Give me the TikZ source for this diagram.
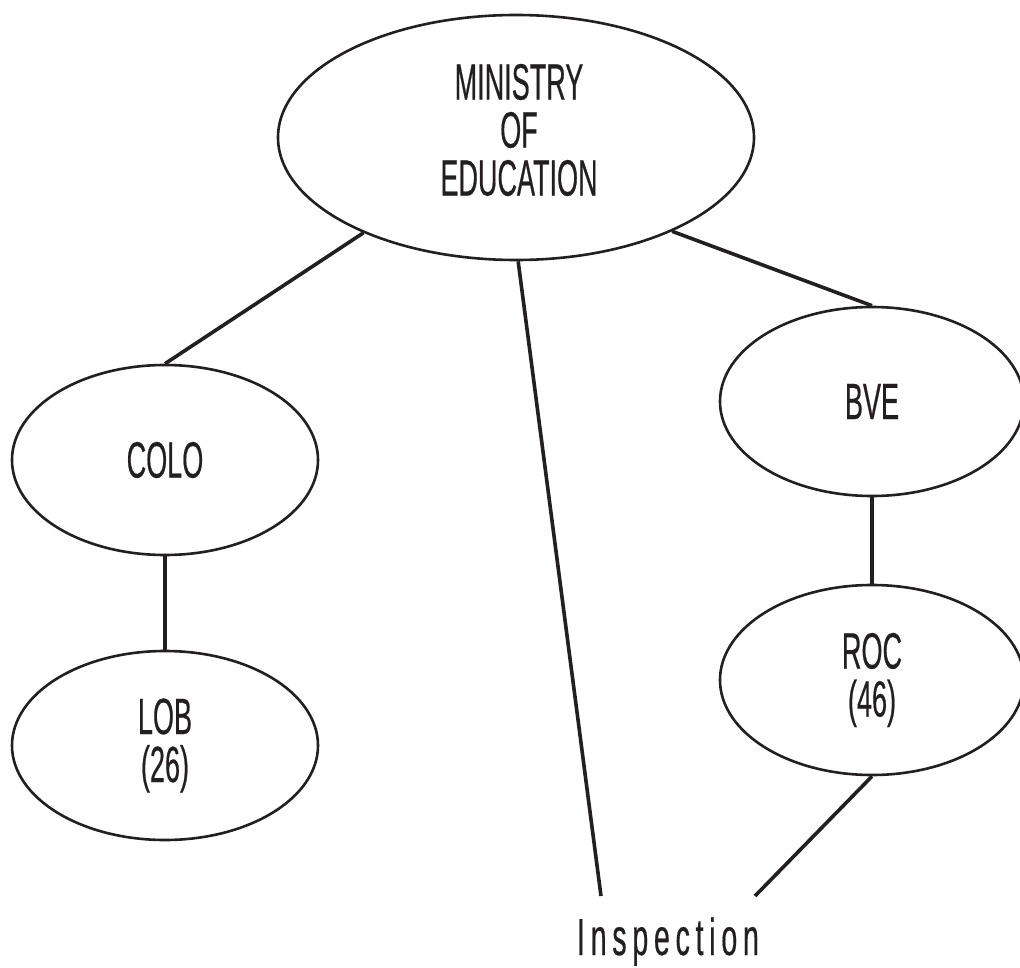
\documentclass[tikz,border=0pt]{standalone}
\usepackage{fontspec}
\setmainfont{Liberation Sans}[FakeStretch=0.53,FakeBold=0.4]
\newfontfamily\inspfont{Liberation Sans}[FakeStretch=0.55,FakeBold=0.4,LetterSpace=11]
\usetikzlibrary{shapes.geometric}
\definecolor{ink}{HTML}{231F20}
\tikzset{
  org/.style={ellipse, draw=ink, line width=2.6pt, inner sep=0pt, align=center,
    text=ink, font=\fontsize{51}{48}\selectfont},
  link/.style={draw=ink, line width=3.6pt}
}
\begin{document}
\begin{tikzpicture}[x=1pt,y=-1pt]
\useasboundingbox (0,0) rectangle (1020,968);
\clip (0,0) rectangle (1020,968);
\node[org, minimum width=476pt, minimum height=245pt] (min) at (516,137.5) {};
\node[text=ink, font=\fontsize{51}{48}\selectfont, align=center, inner sep=0pt] (mintext) at (519,130) {MINISTRY\\OF\\EDUCATION};
\node[org, minimum width=306pt, minimum height=190pt] (colo) at (165,460) {COLO};
\node[org, minimum width=306pt, minimum height=189pt] (lob) at (165,745.5) {LOB\\(26)};
\node[org, minimum width=304pt, minimum height=189pt] (bve) at (872,401.5) {BVE};
\node[org, minimum width=304pt, minimum height=190pt] (roc) at (872,680) {ROC\\(46)};
\node[text=ink, font=\inspfont\fontsize{52}{52}\selectfont, anchor=base] (insp) at (668,955) {Inspection};
\coordinate (e1) at (601,896);
\coordinate (e2) at (755,896);
\draw[link] (min.-148) -- (colo.north);
\draw[link] (min.-31) -- (bve.north);
\draw[link] (min.-89) -- (e1);
\draw[link] (colo.south) -- (lob.north);
\draw[link] (bve.south) -- (roc.north);
\draw[link] (roc.south) -- (e2);
\end{tikzpicture}
\end{document}
